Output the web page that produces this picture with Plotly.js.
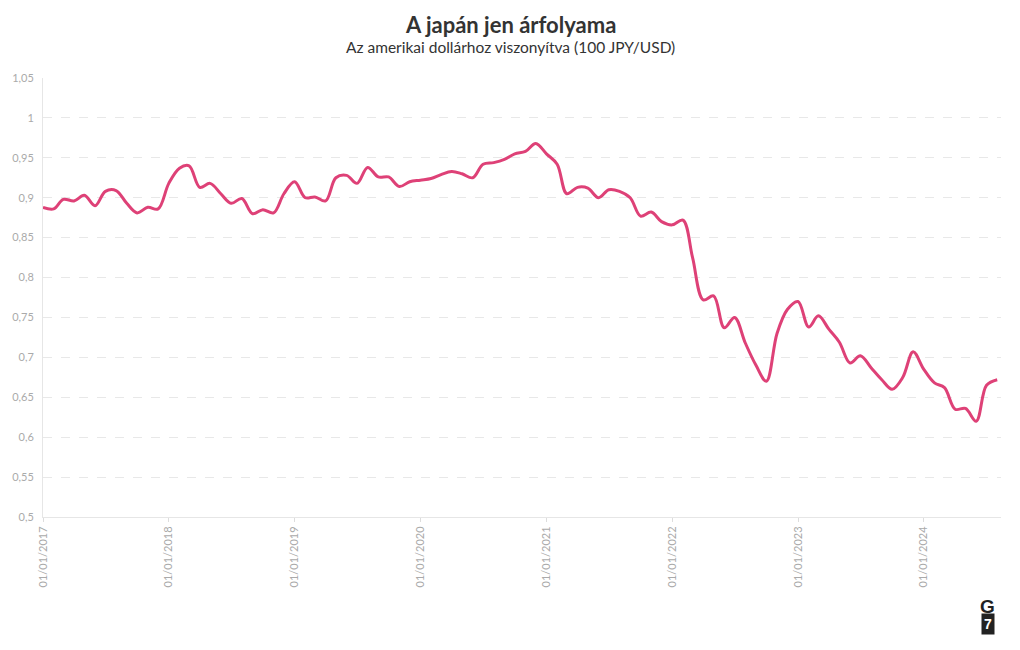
<!DOCTYPE html>
<html>
<head>
<meta charset="utf-8">
<script src="https://cdn.plot.ly/plotly-3.0.1.min.js"></script>
<style>
html,body{margin:0;padding:0;background:#fff;}
#chart{width:1020px;height:650px;}
</style>
</head>
<body>
<div id="chart"></div>
<script>
// Monthly values, Jan 2017 – Aug 2024 (100 JPY in USD)
const months = [];
for (let y = 2017; y <= 2024; y++) {
  for (let m = 1; m <= 12; m++) {
    if (y === 2024 && m > 8) break;
    months.push(y + '-' + String(m).padStart(2, '0') + '-01');
  }
}
const rate = [
  // 2017
  0.888, 0.886, 0.898, 0.896, 0.903, 0.890, 0.908, 0.909, 0.893, 0.881, 0.888, 0.886,
  // 2018
  0.918, 0.937, 0.940, 0.913, 0.918, 0.905, 0.893, 0.899, 0.880, 0.885, 0.881, 0.905,
  // 2019
  0.920, 0.900, 0.901, 0.896, 0.925, 0.928, 0.918, 0.938, 0.926, 0.926, 0.914, 0.920,
  // 2020
  0.922, 0.924, 0.929, 0.933, 0.930, 0.925, 0.942, 0.944, 0.948, 0.955, 0.958, 0.968,
  // 2021
  0.955, 0.942, 0.905, 0.913, 0.912, 0.900, 0.910, 0.908, 0.900, 0.877, 0.882, 0.870,
  // 2022
  0.866, 0.872, 0.825, 0.772, 0.777, 0.737, 0.750, 0.718, 0.690, 0.670, 0.730, 0.760,
  // 2023
  0.770, 0.738, 0.752, 0.735, 0.719, 0.693, 0.702, 0.687, 0.672, 0.660, 0.675, 0.707,
  // 2024
  0.685, 0.668, 0.662, 0.635, 0.636, 0.620, 0.665, 0.672
];
const yTicks = [0.5, 0.55, 0.6, 0.65, 0.7, 0.75, 0.8, 0.85, 0.9, 0.95, 1, 1.05];
const titleText = 'A japán jen árfolyama';
const subtitleText = 'Az amerikai dollárhoz viszonyítva (100 JPY/USD)';

const trace = {
  x: months,
  y: rate,
  type: 'scatter',
  mode: 'lines',
  line: {color: '#de4177', width: 3, shape: 'spline', smoothing: 1},
  hoverinfo: 'x+y'
};

const fam = '"Source Sans Pro", Lato, "Noto Sans", sans-serif';

const layout = {
  width: 1020,
  height: 650,
  separators: ', ',
  paper_bgcolor: '#ffffff',
  plot_bgcolor: '#ffffff',
  margin: {l: 43, r: 19, t: 78, b: 133},
  showlegend: false,
  font: {family: fam, color: '#aaaaaa'},
  xaxis: {
    type: 'date',
    range: ['2017-01-01', '2024-08-12'],
    tickformat: '%d/%m/%Y',
    dtick: 'M12',
    tick0: '2017-01-01',
    tickangle: -90,
    tickfont: {size: 11, color: '#aaaaaa'},
    showgrid: false,
    showline: true,
    linecolor: '#e6e6e6',
    linewidth: 1,
    ticks: 'outside',
    ticklen: 4,
    tickcolor: '#dddddd',
    zeroline: false
  },
  yaxis: {
    range: [0.5, 1.05],
    tickvals: yTicks,
    tickfont: {size: 11, color: '#aaaaaa'},
    showgrid: true,
    gridcolor: '#e8e8e8',
    griddash: 'dash',
    gridwidth: 1,
    showline: true,
    linecolor: '#e6e6e6',
    zeroline: false,
    ticks: '',
    ticklabelstandoff: 6
  },
  annotations: [
    {
      xref: 'paper', yref: 'paper', x: 0.4875, y: 1.123, xanchor: 'center', yanchor: 'middle',
      text: '<b>' + titleText + '</b>', showarrow: false,
      font: {family: fam, size: 22, color: '#333333'}
    },
    {
      xref: 'paper', yref: 'paper', x: 0.4875, y: 1.071, xanchor: 'center', yanchor: 'middle',
      text: subtitleText, showarrow: false,
      font: {family: fam, size: 15.5, color: '#333333'}
    },
    {
      xref: 'paper', yref: 'paper', x: 0.986, y: -0.205, xanchor: 'center', yanchor: 'middle',
      text: '<b>G</b>', showarrow: false,
      font: {family: 'Liberation Sans, Arial, sans-serif', size: 19, color: '#222222'}
    },
    {
      xref: 'paper', yref: 'paper', x: 0.986, y: -0.243, xanchor: 'center', yanchor: 'middle',
      text: '<b>7</b>', showarrow: false, bgcolor: '#222222', borderpad: 2,
      font: {family: 'Liberation Sans, Arial, sans-serif', size: 14, color: '#ffffff'}
    }
  ]
};

Plotly.newPlot('chart', [trace], layout, {displayModeBar: false, staticPlot: true});
</script>
</body>
</html>
